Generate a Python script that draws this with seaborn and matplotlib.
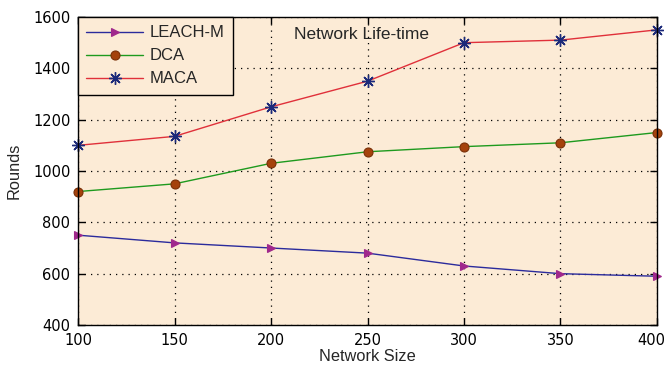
import matplotlib
matplotlib.use("Agg")
import matplotlib.pyplot as plt
import matplotlib.transforms as mtransforms
import seaborn as sns
import pandas as pd

network_size = [100, 150, 200, 250, 300, 350, 400]
leach_m = [750, 720, 700, 680, 630, 600, 590]
dca = [920, 950, 1030, 1075, 1095, 1110, 1150]
maca = [1100, 1135, 1250, 1350, 1500, 1510, 1550]
series_names = ["LEACH-M", "DCA", "MACA"]

sns.set_style("ticks")
plt.rcParams['font.family'] = ['Liberation Sans', 'DejaVu Sans']

fig = plt.figure(figsize=(6.68, 3.70), dpi=100)
ax = fig.add_axes([0.1168, 0.1216, 0.8667, 0.8324])
ax.set_facecolor("#FCEBD6")

styles = {
    "LEACH-M": dict(color="#2B2B9C", marker=">", markerfacecolor="#A0288C",
                    markeredgecolor="#A0288C", markersize=6),
    "DCA": dict(color="#1E9A1E", marker="o", markerfacecolor="#A5420C",
                markeredgecolor="#7A3008", markersize=6.5),
    "MACA": dict(color="#E0303A", marker=(8, 2, 0), markerfacecolor="#1C2A7A",
                 markeredgecolor="#1C2A7A", markersize=9, markeredgewidth=1.0),
}
values = {"LEACH-M": leach_m, "DCA": dca, "MACA": maca}

for name in series_names:
    df = pd.DataFrame({"Network Size": network_size, "Rounds": values[name]})
    kw = dict(styles[name])
    mew = kw.pop("markeredgewidth", 0.8)
    sns.lineplot(data=df, x="Network Size", y="Rounds", ax=ax, label=name,
                 linewidth=1.0, markeredgewidth=mew, clip_on=False, **kw)

ax.set_xlim(100, 400)
ax.set_ylim(400, 1600)
ax.set_xticks(network_size)
ax.set_yticks([400, 600, 800, 1000, 1200, 1400, 1600])
ax.grid(True, color="black", linestyle=(0, (1, 4)), linewidth=0.9)
ax.tick_params(direction="in", top=True, right=True, labelsize=10.5,
               length=5, width=1, colors="black", pad=5.5)
for lab in ax.get_xticklabels() + ax.get_yticklabels():
    lab.set_fontfamily("DejaVu Sans")
# nudge the last x tick label left so it stays inside the figure
last = ax.get_xticklabels()[-1]
last.set_transform(last.get_transform() +
                   mtransforms.ScaledTranslation(-5.5 / 100, 0, fig.dpi_scale_trans))
for sp in ax.spines.values():
    sp.set_visible(True)
    sp.set_color("black")
    sp.set_linewidth(1.0)

ax.set_xlabel("Network Size", fontsize=11.8, labelpad=1)
ax.set_ylabel("Rounds", fontsize=11.8, labelpad=8)
ax.text(0.49, 0.943, "Network Life-time", transform=ax.transAxes,
        ha="center", va="center", fontsize=12.5)

leg = ax.legend(loc="upper left", borderaxespad=0, fontsize=12,
                handlelength=3.4, handletextpad=0.4, fancybox=False, framealpha=1,
                facecolor="#FCEBD6", edgecolor="black", borderpad=0.5,
                labelspacing=0.48)
leg.get_frame().set_linewidth(1.0)

fig.savefig("out.png", dpi=100)
